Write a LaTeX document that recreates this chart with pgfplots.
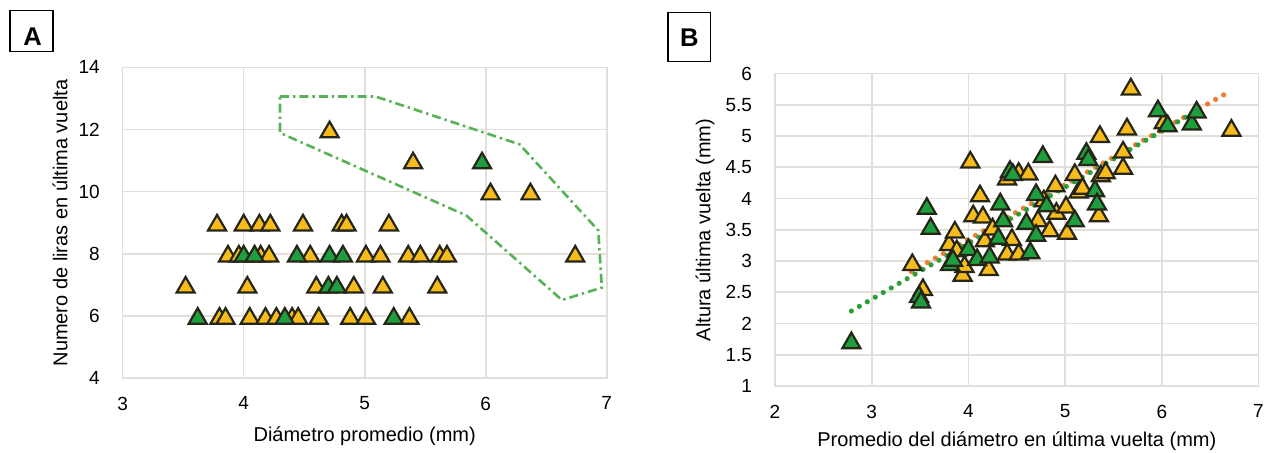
\documentclass[border=0pt]{standalone}
\usepackage{fontspec}
\setmainfont{Liberation Sans}
\usepackage{pgfplots}
\pgfplotsset{compat=1.18}

\definecolor{amarillo}{HTML}{F7BC1C}
\definecolor{verde}{HTML}{1E9E3E}
\definecolor{borde}{HTML}{262618}
\definecolor{rejilla}{HTML}{E2DED9}
\definecolor{naranja}{HTML}{EE7D31}
\definecolor{verdetend}{HTML}{2E9E3A}
\definecolor{contorno}{HTML}{55B255}

\pgfplotsset{
  panel/.style={
    scale only axis, clip=false,
    axis line style={draw=rejilla, line width=0.8pt},
    grid=major, major grid style={draw=rejilla, line width=0.8pt},
    tick style={draw=none},
    ticklabel style={font=\fontsize{9.5}{10}\selectfont, inner sep=0pt},
    /pgf/number format/assume math mode=true,
    xticklabel style={yshift=-9.2pt},
    yticklabel style={xshift=-11.3pt},
  },
  tri/.style={only marks, mark=triangle*, mark size=5.2pt,
    mark options={draw=borde, line width=1.1pt, fill=#1, yshift=-1.3pt}},
}

\begin{document}
\begin{tikzpicture}
\useasboundingbox (0,0) rectangle (632.5pt,226pt);

% ---- panel A
\begin{axis}[panel, at={(61.35pt,37pt)}, anchor=south west,
    width=242pt, height=155.35pt,
    xmin=3, xmax=7, ymin=4, ymax=14,
    xtick={3,4,5,6,7}, ytick={4,6,8,10,12,14}]
\addplot[tri=amarillo] coordinates {
  (4.71,12) (5.40,11) (6.04,10) (6.37,10)
  (3.78,9) (4.00,9) (4.13,9) (4.22,9) (4.49,9) (4.81,9) (4.85,9) (5.20,9)
  (3.87,8) (3.96,8) (4.14,8) (4.21,8) (4.55,8) (5.01,8) (5.13,8) (5.36,8)
  (5.46,8) (5.62,8) (5.68,8) (6.74,8)
  (3.52,7) (4.03,7) (4.60,7) (4.91,7) (5.15,7) (5.60,7)
  (3.80,6) (3.85,6) (4.05,6) (4.18,6) (4.27,6) (4.40,6) (4.45,6) (4.62,6)
  (4.88,6) (5.01,6) (5.37,6)
};
\addplot[tri=verde] coordinates {
  (5.97,11) (4.00,8) (4.09,8) (4.44,8) (4.71,8) (4.82,8)
  (4.70,7) (4.77,7) (3.62,6) (4.34,6) (5.24,6)
};
\addplot[contorno, line width=1.3pt, dash pattern=on 4.5pt off 2pt on 1.2pt off 2pt] coordinates {
  (4.30,13.06) (5.09,13.06) (6.28,11.52) (6.93,8.75) (6.96,6.91)
  (6.63,6.51) (5.84,9.23) (4.30,11.89) (4.30,13.06)
};
\end{axis}

% ---- panel B
\begin{axis}[panel, at={(387.5pt,33pt)}, anchor=south west,
    width=241.75pt, height=156.25pt,
    xmin=2, xmax=7, ymin=1, ymax=6,
    xtick={2,3,4,5,6,7}, ytick={1,1.5,2,2.5,3,3.5,4,4.5,5,5.5,6}]
\addplot[tri=amarillo] coordinates {
  (3.42,2.98) (3.53,2.58) (3.80,3.30) (3.86,3.50) (3.88,3.20) (3.94,2.81)
  (3.96,2.95) (4.02,4.62) (4.05,3.76) (4.12,4.08) (4.15,3.74) (4.17,3.36)
  (4.21,2.90) (4.25,3.55) (4.40,4.35) (4.40,3.15) (4.45,3.38) (4.52,4.44)
  (4.52,3.15) (4.62,4.43) (4.72,3.68) (4.78,4.00) (4.84,3.52) (4.90,4.24)
  (4.91,3.80) (5.01,3.90) (5.02,3.48) (5.10,4.42) (5.14,4.14) (5.18,4.20)
  (5.35,3.76) (5.36,5.03) (5.37,4.40) (5.42,4.45) (5.60,4.52) (5.60,4.78)
  (5.64,5.15) (5.68,5.79) (6.02,5.25) (6.72,5.13)
};
\addplot[tri=verde] coordinates {
  (2.79,1.73) (3.49,2.47) (3.51,2.38) (3.57,3.88) (3.61,3.56) (3.81,2.98)
  (3.84,3.05) (4.00,3.22) (4.09,3.06) (4.22,3.10) (4.33,3.95) (4.31,3.40)
  (4.36,3.68) (4.43,4.47) (4.46,4.42) (4.60,3.64) (4.64,3.17) (4.70,4.10)
  (4.70,3.45) (4.77,4.71) (4.81,3.92) (5.10,3.68) (5.22,4.76) (5.24,4.66)
  (5.31,4.16) (5.33,3.95) (5.96,5.44) (6.06,5.20) (6.31,5.23) (6.36,5.42)
};
\addplot[naranja, line width=2.6pt, line cap=round, dash pattern=on 0pt off 4.6pt] coordinates {
  (3.41,2.83) (6.71,5.72)
};
\addplot[verdetend, line width=2.6pt, line cap=round, dash pattern=on 0pt off 4.6pt] coordinates {
  (2.79,2.20) (6.38,5.42)
};
\end{axis}

% ---- titulos de ejes
\node[font=\fontsize{10}{12}\selectfont] at (182.35pt,7.65pt) {Diámetro promedio (mm)};
\node[font=\fontsize{10}{12}\selectfont, rotate=90] at (30pt,114.5pt) {Numero de liras en última vuelta};
\node[font=\fontsize{10}{12}\selectfont] at (508.4pt,5.15pt) {Promedio del diámetro en última vuelta (mm)};
\node[font=\fontsize{10}{12}\selectfont, rotate=90] at (352.5pt,111pt) {Altura última vuelta (mm)};

% ---- letras de panel
\draw[line width=0.75pt] (5pt,200.15pt) rectangle (26.5pt,220.65pt);
\node[font=\bfseries\fontsize{12.8}{13}\selectfont, inner sep=0pt] at (16.25pt,207.8pt) {A};
\draw[line width=0.75pt] (334pt,195.15pt) rectangle (355.35pt,219.85pt);
\node[font=\bfseries\fontsize{12.8}{13}\selectfont, inner sep=0pt] at (344.7pt,207.3pt) {B};
\end{tikzpicture}
\end{document}
